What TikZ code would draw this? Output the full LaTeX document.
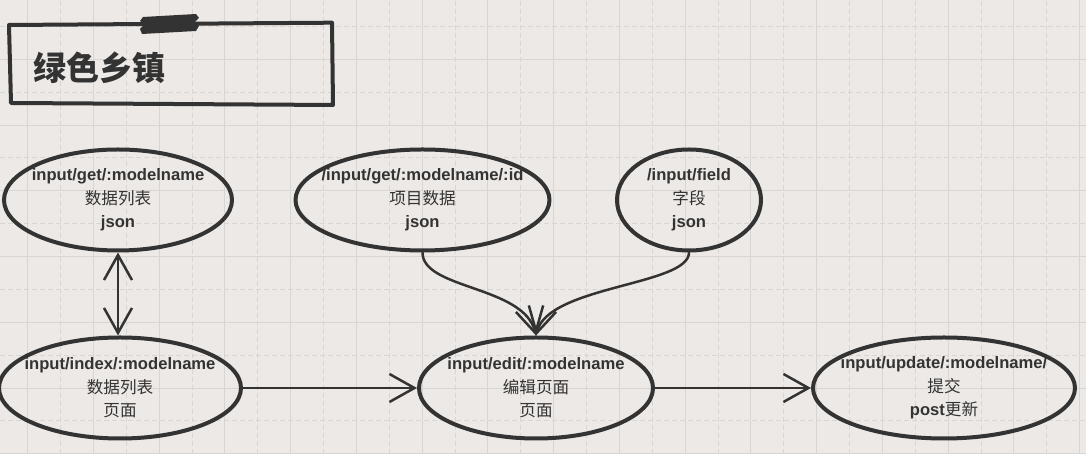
\documentclass[tikz,border=0pt]{standalone}
\usepackage{fontspec}
\setmainfont{Liberation Sans}
\newfontfamily\cjk{Noto Sans CJK SC}
\usetikzlibrary{shapes.geometric,arrows.meta}
\definecolor{paper}{HTML}{ECE9E6}
\definecolor{gridln}{HTML}{D9D5D3}
\definecolor{ink}{HTML}{333333}
\newcommand{\zh}[1]{{\cjk\mdseries #1}}

\begin{document}
\begin{tikzpicture}[x=1pt,y=1pt,>={Straight Barb[length=25pt,width=28pt]},line join=round,line cap=round,
	bubble/.style={ellipse,draw=ink,line width=4pt,minimum height=101pt,inner sep=0pt},
	txt/.style={align=center,text=ink,font=\fontsize{16.6}{23.5}\selectfont\bfseries},
	link/.style={draw=ink,line width=2.5pt}]
	\clip (0,0) rectangle (1086,454);
	\fill[paper] (0,0) rectangle (1086,454);
	% grid
	\foreach \i in {0,...,16}{
		\draw[gridln,line width=1pt,line cap=butt] ({27.7+65.75*\i},0)--({27.7+65.75*\i},454);
		\draw[gridln,line width=1pt,line cap=butt,dash pattern=on 5pt off 3pt] ({60.6+65.75*\i},0)--({60.6+65.75*\i},454);
	}
	\foreach \i in {0,...,6}{
		\draw[gridln,line width=1pt,line cap=butt] (0,{394.7-65.75*\i})--(1086,{394.7-65.75*\i});
		\draw[gridln,line width=1pt,line cap=butt,dash pattern=on 5pt off 3pt] (0,{427.6-65.75*\i})--(1086,{427.6-65.75*\i});
	}
	% title
	\draw[ink,line width=4pt] (9,429)--(332,431.3)--(333,349)--(11,351)--cycle;
	\fill[ink] (143,437)--(196,440)--(199,436)--(195,432)--(199,428)--(196,423)--(142,420)--(140,425)--(144,429)--(140,433)--cycle;
	\node[anchor=west,text=ink,font=\cjk\bfseries\fontsize{33}{33}\selectfont,inner sep=0pt] (title) at (33,386) {绿色乡镇};
	% pages
	\node[bubble,minimum width=228pt,label={[txt]center:{input/get/:modelname\\\zh{数据列表}\\json}}] (getlist) at (118,254) {};
	\node[bubble,minimum width=254pt,label={[txt]center:{/input/get/:modelname/:id\\\zh{项目数据}\\json}}] (getitem) at (422.5,254) {};
	\node[bubble,minimum width=144pt,label={[txt]center:{/input/field\\\zh{字段}\\json}}] (field) at (689,254) {};
	\node[bubble,minimum width=242pt,label={[txt]center:{input/index/:modelname\\\zh{数据列表}\\\zh{页面}}}] (indexpage) at (120,66) {};
	\node[bubble,minimum width=234pt,label={[txt]center:{input/edit/:modelname\\\zh{编辑页面}\\\zh{页面}}}] (editpage) at (536,66) {};
	\node[bubble,minimum width=262pt,label={[txt]center:{input/update/:modelname/\\\zh{提交}\\post\zh{更新}}}] (update) at (944,66) {};
	% links
	\draw[link,<->] (getlist.south)--(getlist.south |- indexpage.north);
	\draw[link,->] (indexpage.east)--(editpage.west);
	\draw[link,->] (editpage.east)--(update.west);
	\draw[link,->] (getitem.south) .. controls +(0,-37) and +(-12,50) .. (editpage.north);
	\draw[link,->] (field.south) .. controls +(0,-33) and +(12,50) .. (editpage.north);
\end{tikzpicture}
\end{document}
